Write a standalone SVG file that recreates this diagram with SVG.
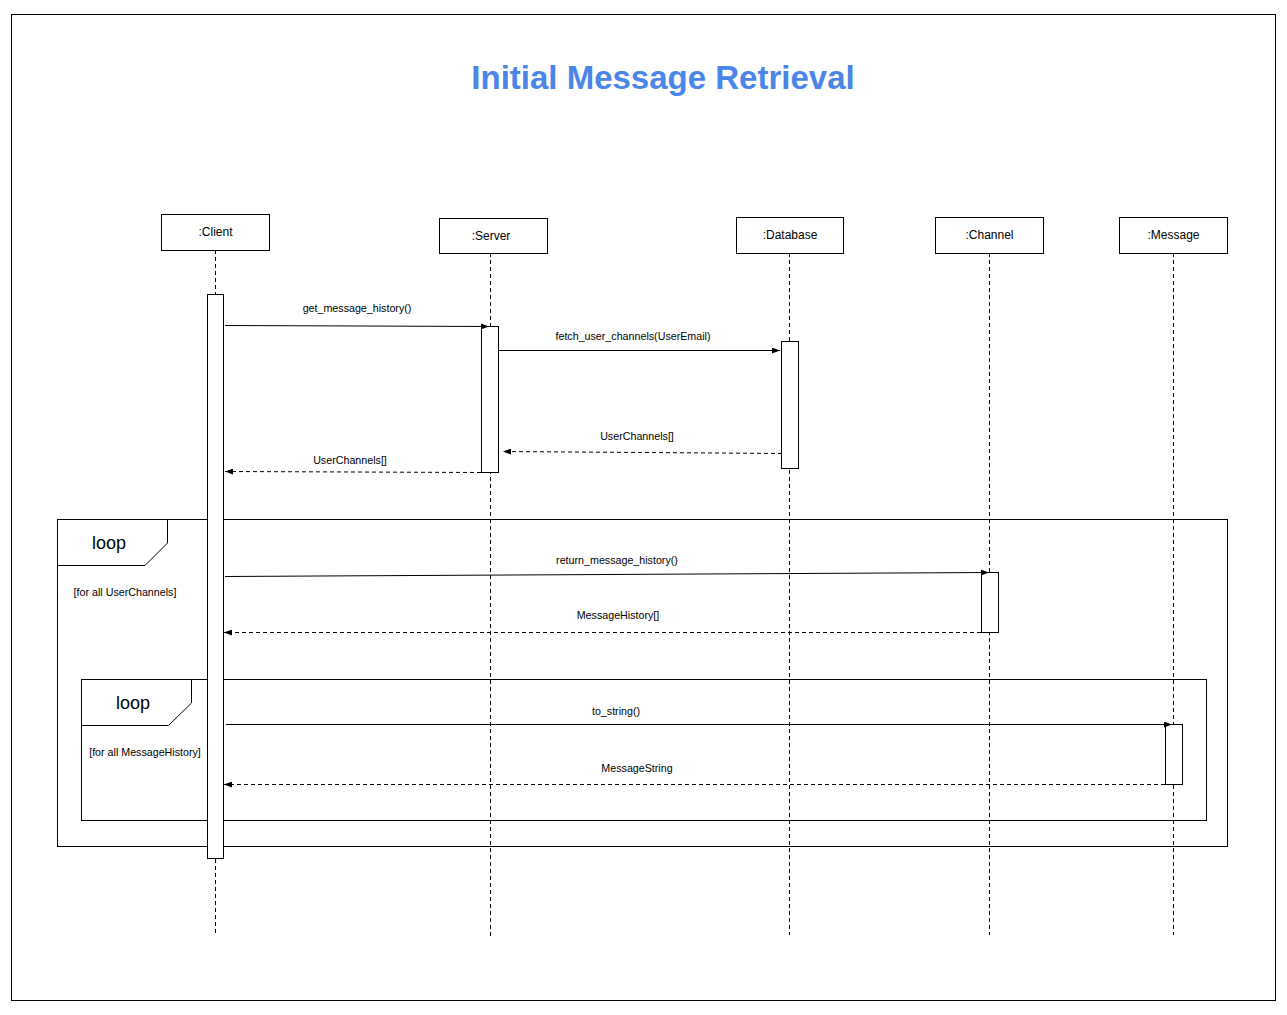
<svg xmlns="http://www.w3.org/2000/svg" width="1287" height="1015" viewBox="0 0 1287 1015">
<style>
.box{fill:#fff;stroke:#000;stroke-width:1}
.frame{fill:none;stroke:#000;stroke-width:1}
.life{stroke:#000;stroke-width:1;stroke-dasharray:4,3;fill:none}
.msg{stroke:#000;stroke-width:1;fill:none}
.ret{stroke:#000;stroke-width:1;stroke-dasharray:4,3;fill:none}
.act{fill:#fff;stroke:#000;stroke-width:1}
text{font-family:"Liberation Sans",Arial,sans-serif;fill:#000}
.nl{font-size:12px;text-anchor:middle}
.ml{font-size:10.7px;text-anchor:middle}
.lp{font-size:18px;text-anchor:middle}
.gd{font-size:10.7px;text-anchor:middle}
</style>
<defs>
<marker id="ah" viewBox="0 0 8 6" refX="8" refY="3" markerWidth="8" markerHeight="6" markerUnits="userSpaceOnUse" orient="auto">
<path d="M0,0 L8,3 L0,6 z" fill="#000"/>
</marker>
</defs>
<rect x="0" y="0" width="1287" height="1015" fill="#fff"/>
<rect x="11.5" y="14.5" width="1264" height="986" class="frame"/>
<text x="663" y="89" style="font-size:33px;font-weight:bold;fill:#4a86e8;text-anchor:middle">Initial Message Retrieval</text>

<g id="lifelines">
<line x1="215.5" y1="250" x2="215.5" y2="936" class="life"/>
<line x1="490.5" y1="253" x2="490.5" y2="936" class="life"/>
<line x1="789.5" y1="253" x2="789.5" y2="935" class="life"/>
<line x1="989.5" y1="253" x2="989.5" y2="935" class="life"/>
<line x1="1173.5" y1="253" x2="1173.5" y2="935" class="life"/>
</g>

<g id="loop-outer">
<rect x="57.5" y="519.5" width="1170" height="327" class="frame"/>
<path d="M57.5,565.5 L145,565.5 L167.5,543 L167.5,519.5" class="frame"/>
<text x="109" y="549" class="lp">loop</text>
<text x="125" y="596" class="gd">[for all UserChannels]</text>
</g>
<g id="loop-inner">
<rect x="81.5" y="679.5" width="1125" height="141" class="frame"/>
<path d="M81.5,725.5 L168.5,725.5 L191.5,703 L191.5,679.5" class="frame"/>
<text x="133" y="709" class="lp">loop</text>
<text x="145" y="756" class="gd">[for all MessageHistory]</text>
</g>

<g id="client">
<rect x="161.5" y="214.5" width="108" height="36" class="box"/>
<text x="215.5" y="236" class="nl">:Client</text>
</g>
<g id="server">
<rect x="439.5" y="218.5" width="108" height="35" class="box"/>
<text x="491" y="240" class="nl">:Server</text>
</g>
<g id="database">
<rect x="736.5" y="217.5" width="107" height="36" class="box"/>
<text x="790" y="239" class="nl">:Database</text>
</g>
<g id="channel">
<rect x="935.5" y="217.5" width="108" height="36" class="box"/>
<text x="989.5" y="239" class="nl">:Channel</text>
</g>
<g id="message">
<rect x="1119.5" y="217.5" width="108" height="36" class="box"/>
<text x="1173.5" y="239" class="nl">:Message</text>
</g>

<g id="activations">
<rect x="207.5" y="294.5" width="16" height="564" class="act"/>
<rect x="481.5" y="326.5" width="17" height="146" class="act"/>
<rect x="781.5" y="341.5" width="17" height="127" class="act"/>
<rect x="981.5" y="572.5" width="17" height="60" class="act"/>
<rect x="1165.5" y="724.5" width="17" height="60" class="act"/>
</g>

<g id="connectors">
<line x1="225" y1="325.5" x2="489" y2="326.5" class="msg" marker-end="url(#ah)"/>
<text x="357" y="312" class="ml">get_message_history()</text>
<line x1="498.5" y1="350.5" x2="780" y2="350.5" class="msg" marker-end="url(#ah)"/>
<text x="633" y="340" class="ml">fetch_user_channels(UserEmail)</text>
<line x1="782" y1="453.5" x2="503" y2="451.5" class="ret" marker-end="url(#ah)"/>
<text x="637" y="440" class="ml">UserChannels[]</text>
<line x1="481" y1="472.5" x2="225" y2="471.5" class="ret" marker-end="url(#ah)"/>
<text x="350" y="464" class="ml">UserChannels[]</text>
<line x1="225" y1="576.5" x2="989" y2="572.5" class="msg" marker-end="url(#ah)"/>
<text x="617" y="564" class="ml">return_message_history()</text>
<line x1="981" y1="632.5" x2="224" y2="632.5" class="ret" marker-end="url(#ah)"/>
<text x="618" y="619" class="ml">MessageHistory[]</text>
<line x1="226" y1="724.5" x2="1172" y2="724.5" class="msg" marker-end="url(#ah)"/>
<text x="616" y="715" class="ml">to_string()</text>
<line x1="1165" y1="784.5" x2="224" y2="784.5" class="ret" marker-end="url(#ah)"/>
<text x="637" y="772" class="ml">MessageString</text>
</g>
</svg>
